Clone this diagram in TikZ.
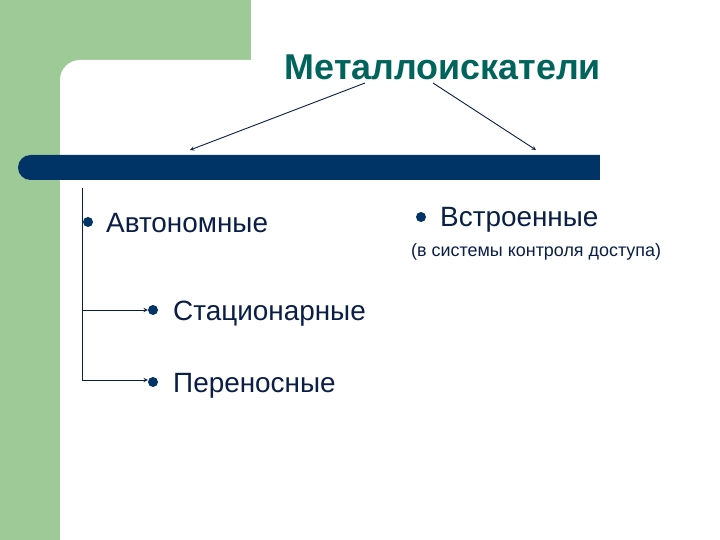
\documentclass[tikz,border=0pt]{standalone}
\usepackage{fontspec}
\setmainfont{Liberation Sans}
\definecolor{slidegreen}{RGB}{157,202,150}
\definecolor{barblue}{RGB}{0,51,102}
\definecolor{titleteal}{RGB}{0,100,92}
\definecolor{textnavy}{RGB}{10,30,70}
\tikzset{
  item/.style={anchor=base west, inner sep=0pt, text=textnavy, font=\fontsize{28}{32}\selectfont},
  dot/.style={circle, fill=barblue, inner sep=0pt, minimum size=10bp},
  link/.style={->, draw=textnavy, line width=0.9bp}
}
\begin{document}
\begin{tikzpicture}[x=1bp, y=-1bp, >=stealth]
  \useasboundingbox (0,0) rectangle (720,540);
  % Slide background
  \fill[slidegreen] (0,0) rectangle (251,60);
  \fill[slidegreen] (0,0) rectangle (85,85);
  \fill[slidegreen] (0,0) rectangle (60,540);
  \fill[white, rounded corners=20bp] (60,60) rectangle (740,560);
  \fill[barblue, rounded corners=12.5bp] (18,155) rectangle (620,180);
  \fill[white] (600,150) rectangle (720,185);

  % Title and arrows
  \node[anchor=base, inner sep=0pt, text=titleteal, font=\fontsize{36}{40}\bfseries\selectfont]
    (title) at (443,80) {Металлоискатели};
  \coordinate (tl) at (365,83);
  \coordinate (tr) at (433,83);
  \coordinate (al) at (190,150);
  \coordinate (ar) at (536,150);
  \draw[link] (tl) -- (al);
  \draw[link] (tr) -- (ar);

  % Left branch
  \node[dot] (d1) at (88,222) {};
  \node[item] (auto) at (106,233) {Автономные};
  \node[dot] (d3) at (153,310) {};
  \node[item] (stat) at (173,320) {Стационарные};
  \node[dot] (d4) at (153,382) {};
  \node[item] (port) at (173,392) {Переносные};
  \coordinate (top) at (82,188);
  \coordinate (j1) at (82,310);
  \coordinate (j2) at (82,380);
  \draw[textnavy, line width=0.9bp] (top) -- (j2);
  \draw[link] (j1) -- (d3.west);
  \draw[link] (j2) -- (d4.west |- j2);

  % Right branch
  \node[dot] (d2) at (421,217) {};
  \node[item] (built) at (440,227) {Встроенные};
  \node[anchor=base west, inner sep=0pt, text=textnavy, font=\fontsize{18}{22}\selectfont]
    (note) at (411,257) {(в системы контроля доступа)};
\end{tikzpicture}
\end{document}
